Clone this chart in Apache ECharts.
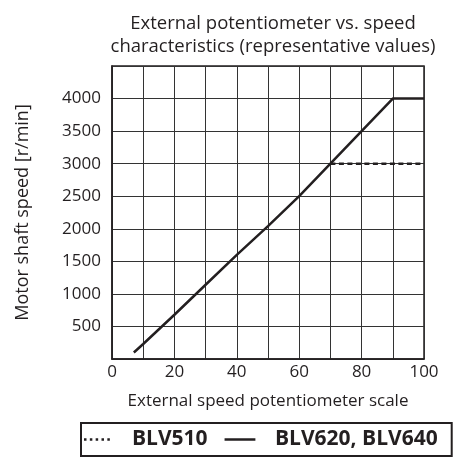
<!DOCTYPE html>
<html><head><meta charset="utf-8">
<script src="https://cdn.jsdelivr.net/npm/echarts@6/dist/echarts.min.js"></script>
<style>html,body{margin:0;padding:0;background:#fff}#c{width:458px;height:457px}</style>
</head><body><div id="c"></div>
<script>
const scaleX = [7, 10, 20, 30, 40, 50, 60, 70, 80, 90, 100];
const speedBLV620 = [100, 230, 680, 1140, 1600, 2040, 2500, 3000, 3500, 4000, 4000];
const scaleBLV510 = [70, 100];
const speedBLV510 = [3000, 3000];
const titleLines = ['External potentiometer vs. speed', 'characteristics (representative values)'];

const font = '"Open Sans", "Noto Sans", sans-serif';
const ink = '#231f20';
const chart = echarts.init(document.getElementById('c'), null, {renderer: 'canvas'});
chart.setOption({
  animation: false,
  title: {
    text: titleLines.join('\n'), left: 268, top: 7, textAlign: 'center',
    textStyle: {fontFamily: font, fontSize: 18.5, fontWeight: 'normal', color: ink, lineHeight: 23}
  },
  grid: {left: 112, right: 34, top: 66, bottom: 98, show: true, borderColor: ink, borderWidth: 1.5},
  xAxis: {
    type: 'value', min: 0, max: 100, interval: 10,
    name: 'External speed potentiometer scale', nameLocation: 'middle', nameGap: 34,
    nameTextStyle: {fontFamily: font, fontSize: 17, color: ink},
    axisLine: {lineStyle: {color: ink, width: 1.5}},
    axisTick: {show: false},
    axisLabel: {fontFamily: font, fontSize: 17, color: ink, margin: 5,
      formatter: v => (v % 20 === 0 ? String(v) : '')},
    splitLine: {lineStyle: {color: '#333', width: 1}}
  },
  yAxis: {
    type: 'value', min: 0, max: 4500, interval: 500,
    name: 'Motor shaft speed [r/min]', nameLocation: 'middle', nameGap: 80,
    nameTextStyle: {fontFamily: font, fontSize: 18, color: ink},
    axisLine: {show: true, lineStyle: {color: ink, width: 1.5}},
    axisTick: {show: false},
    axisLabel: {fontFamily: font, fontSize: 17, color: ink, margin: 11,
      formatter: v => (v === 0 || v === 4500 ? '' : String(v))},
    splitLine: {lineStyle: {color: '#333', width: 1}}
  },
  legend: {
    bottom: 1, left: 81,
    data: [
      {name: 'BLV510', icon: 'path://M0,0h3v3h-3z M7,0h3v3h-3z M14,0h3v3h-3z M21,0h3v3h-3z M28,0h3v3h-3z'},
      {name: 'BLV620, BLV640', icon: 'path://M0,0h37v3h-37z'}
    ],
    itemWidth: 34, itemHeight: 2.5, itemGap: 17,
    borderColor: ink, borderWidth: 2, borderRadius: 0, padding: [6, 14, 6, 3],
    itemStyle: {color: ink},
    textStyle: {fontFamily: font, fontSize: 21, fontWeight: 'bold', color: ink, padding: [0, 0, 0, 13]}
  },
  series: [
    {
      name: 'BLV510', type: 'line', symbol: 'none',
      data: scaleBLV510.map((x, i) => [x, speedBLV510[i]]),
      lineStyle: {color: ink, width: 2.5, type: [5, 3.5]}, itemStyle: {color: ink}, z: 3
    },
    {
      name: 'BLV620, BLV640', type: 'line', symbol: 'none',
      data: scaleX.map((x, i) => [x, speedBLV620[i]]),
      lineStyle: {color: ink, width: 2.5}, itemStyle: {color: ink}, z: 4
    }
  ]
});
</script></body></html>
